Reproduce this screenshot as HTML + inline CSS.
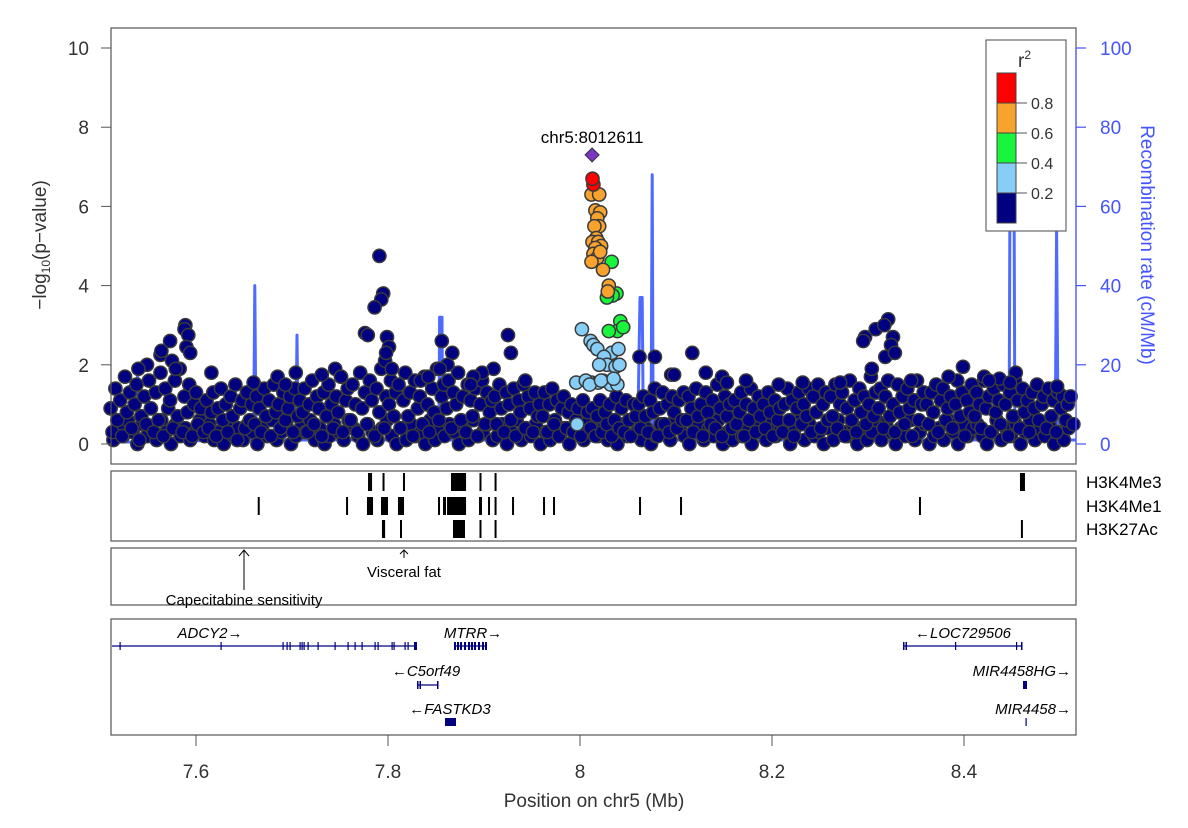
<!DOCTYPE html>
<html><head><meta charset="utf-8">
<style>
body{margin:0;background:#fff;}
svg{display:block;font-family:"Liberation Sans",Arial,sans-serif;}
</style></head>
<body>
<svg id="chart" width="1188" height="828" viewBox="0 0 1188 828" xmlns="http://www.w3.org/2000/svg">
<rect x="0" y="0" width="1188" height="828" fill="#fff"/>
<g id="recomb"></g>
<g id="pts"></g>
<g id="frame"></g>
<g id="axes"></g>
<g id="tracks"></g>
<g id="gwas"></g>
<g id="genes"></g>
<g id="legend"></g>
</svg>
<script>
// ---- data ----
const bgPosKb = [
7511,7513,7516,7518,7521,7523,7526,7528,7531,7533,7536,7538,7541,7543,7546,7548,7551,7553,7556,7558,
7561,7563,7566,7568,7571,7573,7576,7578,7581,7583,7586,7588,7591,7593,7596,7598,7600,7602,7605,7608,
7611,7613,7616,7618,7621,7623,7626,7628,7631,7633,7636,7638,7641,7643,7646,7648,7651,7653,7656,7658,
7661,7663,7666,7668,7671,7673,7676,7678,7681,7683,7686,7688,7691,7693,7696,7698,7701,7703,7706,7708,
7711,7713,7716,7718,7721,7723,7726,7728,7731,7733,7736,7738,7741,7743,7746,7748,7751,7753,7756,7758,
7761,7763,7766,7768,7771,7773,7776,7778,7781,7783,7786,7788,7791,7793,7796,7798,7801,7803,7806,7808,
7811,7813,7816,7818,7821,7823,7826,7828,7831,7833,7836,7838,7841,7843,7846,7848,7851,7853,7856,7858,
7861,7863,7866,7868,7871,7873,7876,7878,7881,7883,7886,7888,7891,7893,7896,7898,7901,7903,7906,7908,
7911,7913,7916,7918,7921,7923,7926,7928,7931,7933,7936,7938,7941,7943,7946,7948,7951,7953,7956,7958,
7961,7963,7966,7968,7971,7973,7976,7978,7981,7983,7986,7988,7991,7993,7996,7998,8001,8003,8006,8008,
8011,8013,8016,8018,8021,8023,8026,8028,8031,8033,8036,8038,8041,8043,8046,8048,8051,8053,8056,8058,
8061,8063,8066,8068,8071,8073,8076,8078,8081,8083,8086,8088,8091,8093,8096,8098,8101,8103,8106,8108,
8111,8113,8116,8118,8121,8123,8126,8128,8131,8133,8136,8138,8141,8143,8146,8148,8151,8153,8156,8158,
8161,8163,8166,8168,8171,8173,8176,8178,8181,8183,8186,8188,8191,8193,8196,8198,8201,8203,8206,8208,
8211,8213,8216,8218,8221,8223,8226,8228,8231,8233,8236,8238,8241,8243,8246,8248,8251,8253,8256,8258,
8261,8263,8266,8268,8271,8273,8276,8278,8281,8283,8286,8288,8291,8293,8296,8298,8301,8303,8306,8308,
8311,8313,8316,8318,8321,8323,8326,8328,8331,8333,8336,8338,8341,8343,8346,8348,8351,8353,8356,8358,
8361,8363,8366,8368,8371,8373,8376,8378,8381,8383,8386,8388,8391,8393,8396,8398,8401,8403,8406,8408,
8411,8413,8416,8418,8421,8423,8426,8428,8431,8433,8436,8438,8441,8443,8446,8448,8451,8453,8456,8458,
8461,8463,8466,8468,8471,8473,8476,8478,8481,8483,8486,8488,8491,8493,8496,8498,8501,8503,8506,8508,8511,8514];
const bgLogP = [
0.9,0.3,1.4,0.6,1.1,0.2,1.7,0.8,1.3,0.4,1.0,1.5,0.1,0.7,1.2,0.5,1.6,0.9,0.3,1.3,
0.6,1.8,0.2,1.4,0.9,1.1,0.4,1.6,0.7,1.9,0.3,1.2,0.8,1.5,0.2,1.0,1.3,0.5,0.9,0.3,
1.1,0.4,0.8,1.3,0.2,0.9,1.4,0.6,1.0,0.3,1.2,0.7,1.5,0.1,0.9,1.1,0.4,1.3,0.6,1.0,
0.5,1.2,0.9,0.3,1.4,0.7,1.1,0.2,1.5,0.8,1.0,0.4,1.3,0.6,0.9,1.2,0.3,1.4,0.7,1.1,
0.8,1.4,0.3,1.0,1.6,0.5,1.2,0.9,0.2,1.3,0.7,1.5,1.0,0.4,1.2,0.8,1.7,0.3,1.1,1.4,
0.6,1.5,1.0,0.3,1.8,0.9,1.3,0.5,1.6,1.1,0.2,1.4,0.8,1.9,0.4,1.2,1.0,1.6,0.7,1.3,
1.5,0.4,1.1,1.8,0.7,1.3,0.2,1.6,0.9,1.2,0.5,1.7,1.0,0.3,1.4,0.8,1.9,0.6,1.2,1.5,
0.9,1.6,0.4,1.3,1.0,1.8,0.6,1.2,0.3,1.5,1.1,0.7,1.4,0.2,1.0,1.6,0.5,1.3,0.8,1.1,
1.2,0.5,1.5,0.9,0.3,1.3,1.0,0.6,1.4,0.2,1.1,0.8,1.5,0.4,1.2,0.9,0.3,1.3,0.7,1.0,
0.7,1.3,0.3,1.0,1.4,0.5,1.1,0.2,0.9,1.2,0.4,0.8,1.0,0.3,0.6,0.9,0.2,1.1,0.5,0.8,
0.4,0.9,0.2,0.7,1.1,0.3,0.8,0.5,1.0,0.2,0.6,1.2,0.4,0.9,0.3,1.1,0.6,0.2,1.0,0.7,
1.0,0.4,1.2,0.7,0.3,1.1,0.8,1.4,0.2,0.9,1.3,0.5,1.0,0.3,1.2,0.8,0.4,1.1,0.6,1.3,
0.6,1.2,0.9,0.3,1.4,0.7,1.0,0.2,1.3,0.8,0.5,1.1,0.4,1.5,0.9,0.2,1.2,0.7,1.0,0.4,
1.1,0.5,0.8,1.3,0.2,1.0,0.6,1.4,0.9,0.3,1.2,0.7,1.0,0.4,1.3,0.8,0.2,1.1,0.6,0.9,
0.3,1.0,1.4,0.6,1.1,0.2,0.9,1.3,0.5,1.0,0.7,1.4,0.3,1.2,0.8,1.5,0.4,1.0,1.3,0.6,
1.2,0.7,1.5,0.4,1.0,1.3,0.2,0.9,1.6,0.6,1.1,0.3,1.4,0.8,1.2,0.5,1.0,1.7,0.7,1.3,
0.9,1.4,0.4,1.2,1.6,0.7,1.0,0.3,1.5,0.8,1.2,0.5,1.4,0.9,0.2,1.1,1.6,0.6,1.0,1.3,
1.0,0.5,1.3,0.8,1.5,0.3,1.1,1.4,0.6,0.9,1.2,0.4,1.0,1.6,0.7,1.3,0.2,1.1,0.8,1.5,
0.7,1.3,1.0,0.4,1.6,0.9,1.2,0.3,1.4,0.8,1.1,0.5,1.5,1.0,0.2,1.3,0.7,1.6,1.1,0.4,
1.4,0.8,1.1,0.3,1.3,0.9,1.5,0.6,1.0,1.2,0.4,1.4,0.7,1.1,0.3,1.3,0.9,1.2,0.6,1.0,1.2,0.5];
const lowPosKb = [
7514,7519,7524,7529,7534,7539,7544,7549,7554,7559,7564,7569,7574,7579,7584,7589,7594,7599,7604,7609,
7614,7619,7624,7629,7634,7639,7644,7649,7654,7659,7664,7669,7674,7679,7684,7689,7694,7699,7704,7709,
7714,7719,7724,7729,7734,7739,7744,7749,7754,7759,7764,7769,7774,7779,7784,7789,7794,7799,7804,7809,
7814,7819,7824,7829,7834,7839,7844,7849,7854,7859,7864,7869,7874,7879,7884,7889,7894,7899,7904,7909,
7914,7919,7924,7929,7934,7939,7944,7949,7954,7959,7964,7969,7974,7979,7984,7989,7994,7999,8004,8009,
8014,8019,8024,8029,8034,8039,8044,8049,8054,8059,8064,8069,8074,8079,8084,8089,8094,8099,8104,8109,
8114,8119,8124,8129,8134,8139,8144,8149,8154,8159,8164,8169,8174,8179,8184,8189,8194,8199,8204,8209,
8214,8219,8224,8229,8234,8239,8244,8249,8254,8259,8264,8269,8274,8279,8284,8289,8294,8299,8304,8309,
8314,8319,8324,8329,8334,8339,8344,8349,8354,8359,8364,8369,8374,8379,8384,8389,8394,8399,8404,8409,
8414,8419,8424,8429,8434,8439,8444,8449,8454,8459,8464,8469,8474,8479,8484,8489,8494,8499,8504,8509];
const lowLogP = [
0.1,0.4,0.2,0.6,0.3,0.0,0.5,0.2,0.4,0.1,0.6,0.3,0.0,0.5,0.2,0.4,0.1,0.3,0.6,0.2,
0.5,0.1,0.3,0.0,0.6,0.2,0.4,0.1,0.5,0.3,0.0,0.4,0.2,0.6,0.1,0.3,0.5,0.0,0.2,0.4,
0.3,0.6,0.1,0.4,0.0,0.2,0.5,0.3,0.1,0.6,0.4,0.2,0.0,0.5,0.3,0.1,0.4,0.6,0.2,0.0,
0.4,0.1,0.5,0.2,0.3,0.0,0.6,0.1,0.4,0.2,0.5,0.3,0.0,0.4,0.1,0.6,0.2,0.3,0.5,0.1,
0.2,0.5,0.0,0.3,0.6,0.1,0.4,0.2,0.5,0.0,0.3,0.1,0.6,0.2,0.4,0.0,0.3,0.5,0.1,0.4,
0.6,0.2,0.4,0.1,0.3,0.0,0.5,0.2,0.6,0.3,0.1,0.4,0.0,0.2,0.5,0.3,0.1,0.6,0.4,0.2,
0.0,0.3,0.5,0.1,0.4,0.2,0.6,0.0,0.3,0.1,0.5,0.2,0.4,0.0,0.6,0.3,0.1,0.5,0.2,0.4,
0.3,0.0,0.4,0.6,0.1,0.5,0.2,0.3,0.0,0.4,0.1,0.6,0.3,0.2,0.5,0.0,0.4,0.1,0.3,0.6,
0.1,0.5,0.3,0.0,0.4,0.2,0.6,0.1,0.3,0.5,0.0,0.2,0.4,0.1,0.6,0.3,0.0,0.5,0.2,0.4,
0.5,0.2,0.0,0.3,0.6,0.1,0.4,0.2,0.5,0.0,0.3,0.6,0.1,0.4,0.2,0.5,0.0,0.3,0.1,0.4];
// visible outlier SNPs with r2 < 0.2
const outPosKb = [7791,7795,7793,7786,7776,7779,7799,7801,7797,7804,7798,7573,7589,7588,7592,7590,7563,7549,7575,7594,7579,7564,7540,7616,7685,7704,7731,7745,7751,7856,7867,7862,7854,7925,7928,7910,7898,7889,8117,8078,8062,8095,8098,8131,8148,8153,8297,8295,8308,8321,8317,8326,8324,8304,8318,8328,8345,8399,8421,8437,8454,8497,7660,7693,7834,7842,7886,7943,8173,8207,8232,8271,8384,8426,8448];
const outLogP = [4.75,3.8,3.65,3.45,2.8,2.75,2.7,2.45,2.1,1.9,2.3,2.6,3.0,2.9,2.75,2.45,2.25,2.0,2.1,2.3,1.9,2.35,1.9,1.8,1.7,1.8,1.75,1.9,1.7,2.6,2.3,2.0,1.9,2.75,2.3,1.9,1.8,1.7,2.3,2.2,2.2,1.75,1.75,1.8,1.7,1.55,2.7,2.6,2.9,3.15,3.0,2.7,2.5,1.9,2.2,2.3,1.6,1.95,1.7,1.65,1.8,1.45,1.55,1.5,1.6,1.7,1.5,1.6,1.6,1.5,1.55,1.55,1.7,1.6,1.55];
// SNPs in LD with the lead variant
const ldPosKb = [8013,8014,8012,8020,8016,8021,8018,8020,8015,8017,8013,8019,8022,8016,8014,8018,8021,8012,8024,8030,8033,8029,8032,8038,8034,8028,8042,8039,8045,8030,8031,8033,8002,8011,8014,8018,8025,8028,8020,8037,8040,8012,8019,8024,8032,8039,8041,7996,8006,8010,8022,8035,7997];
const ldLogP = [6.7,6.55,6.3,6.3,5.9,5.85,5.7,5.5,5.5,5.2,5.1,5.1,5.0,4.95,4.8,4.7,4.85,4.6,4.4,4.0,4.6,3.85,3.8,3.8,3.75,3.7,3.1,2.85,2.95,2.85,2.2,2.3,2.9,2.6,2.5,2.4,2.2,2.0,2.0,1.95,2.4,1.55,1.55,1.6,1.5,1.5,2.0,1.55,1.6,1.5,1.6,1.65,0.5];
const ldR2 = [0.9,0.85,0.7,0.7,0.7,0.7,0.7,0.7,0.7,0.7,0.7,0.7,0.7,0.7,0.7,0.7,0.7,0.7,0.7,0.7,0.5,0.7,0.5,0.5,0.5,0.5,0.5,0.5,0.5,0.5,0.3,0.3,0.3,0.3,0.3,0.3,0.3,0.3,0.3,0.3,0.3,0.3,0.3,0.3,0.3,0.3,0.3,0.3,0.3,0.3,0.3,0.3,0.3];
const leadPos = 8.012611, leadLogP = 7.3;
const recPos = [7.511,7.538,7.5393,7.5405,7.600,7.660,7.6612,7.6625,7.704,7.7052,7.7065,7.853,7.8537,7.8563,7.857,7.930,8.060,8.0625,8.0648,8.066,8.074,8.0752,8.0763,8.447,8.448,8.452,8.453,8.464,8.4656,8.467,8.495,8.4965,8.498,8.517];
const recRate = [0.5,0.5,19.5,0.5,0.8,1,40,1,1,27.5,1,1,32,32,1,1,1,37,37,1,1,68,1,1,75,75,1,1,13,1,1,54,1,1];
const xTicks = [7.6,7.8,8.0,8.2,8.4];
const xTickLabels = ["7.6","7.8","8","8.2","8.4"];
const yTicks = [0,2,4,6,8,10];
const recTicks = [0,20,40,60,80,100];
const trackNames = ["H3K4Me3","H3K4Me1","H3K27Ac"];
const me3 = [[7.7792,7.7799],[7.7813,7.782],[7.7943,7.7955],[7.8156,7.8164],[7.8656,7.8813],[7.8953,7.8961],[7.911,7.912],[8.4583,8.4635]];
const me1 = [[7.6643,7.665],[7.7563,7.757],[7.7781,7.7844],[7.7927,7.8],[7.8104,7.8112],[7.8125,7.8133],[7.8146,7.8154],[7.8521,7.8535],[7.8573,7.8604],[7.8615,7.8813],[7.8948,7.8979],[7.9042,7.905],[7.911,7.912],[7.9292,7.93],[7.9615,7.9623],[7.9719,7.9727],[8.0615,8.0623],[8.1042,8.105],[8.3531,8.354]];
const k27 = [[7.7937,7.797],[7.8125,7.8133],[7.8677,7.8802],[7.8953,7.8961],[7.911,7.912],[8.4593,8.461]];
// ---- scales ----
const X = m => 196 + (m - 7.6) * 960;
const Y = v => 444 - 39.6 * v;
const YR = r => 444 - 3.96 * r;
const NS = "http://www.w3.org/2000/svg";
function mk(tag, attrs, parent, text){const e=document.createElementNS(NS,tag);for(const k in attrs)e.setAttribute(k,attrs[k]);if(text!==undefined)e.textContent=text;parent.appendChild(e);return e;}
const $ = id => document.getElementById(id);
function r2col(r){return r>=0.8?"#FF0000":r>=0.6?"#F8A32E":r>=0.4?"#19F53C":r>=0.2?"#87CEF6":"#000080";}

// recombination line
let d="";recPos.forEach((p,i)=>{d+=(i?"L":"M")+X(p).toFixed(1)+","+YR(recRate[i]).toFixed(1);});
const rl=mk("path",{d:d,fill:"none",stroke:"#3050FF","stroke-width":3,"stroke-opacity":0.85,"stroke-linejoin":"round"},$("recomb"));



// points
const clipG = $("pts");
function dot(p,v,r){const c=mk("circle",{cx:X(p).toFixed(1),cy:Y(v).toFixed(1),r:6.6,fill:r2col(r),stroke:"#3a3a3a","stroke-width":1.5},clipG);

}
lowPosKb.forEach((p,i)=>dot(p/1000,lowLogP[i],0.1));
bgPosKb.forEach((p,i)=>dot(p/1000,bgLogP[i],0.1));
outPosKb.forEach((p,i)=>dot(p/1000,outLogP[i],0.1));
const ldOrder = ldPosKb.map((p,i)=>i).sort((a,b)=>ldR2[a]-ldR2[b]);
ldOrder.forEach(i=>dot(ldPosKb[i]/1000,ldLogP[i],ldR2[i]));
const lx=X(leadPos), ly=Y(leadLogP);
const dia=mk("polygon",{points:`${lx},${ly-7} ${lx+7},${ly} ${lx},${ly+7} ${lx-7},${ly}`,fill:"#7B35C0",stroke:"#333","stroke-width":1},clipG);


const lt=mk("text",{x:lx,y:ly-12,"text-anchor":"middle","font-size":17,fill:"#000"},clipG,"chr5:8012611");



// frames
const fr=$("frame");
[[111,28,965,436],[111,471,965,70],[111,548,965,57],[111,619,965,116]].forEach((b,i)=>{
const r=mk("rect",{x:b[0],y:b[1],width:b[2],height:b[3],fill:"none",stroke:"#555","stroke-width":1.2},fr);

});

// axes
const ax=$("axes");
mk("line",{x1:111,y1:Y(0),x2:111,y2:Y(10),stroke:"#555","stroke-width":1},ax);
yTicks.forEach(t=>{mk("line",{x1:101,y1:Y(t),x2:111,y2:Y(t),stroke:"#555","stroke-width":1},ax);
const tx=mk("text",{x:89,y:Y(t)+7,"text-anchor":"end","font-size":19,fill:"#333"},ax,String(t));

});
mk("line",{x1:1076,y1:YR(0),x2:1076,y2:YR(100),stroke:"#4455FF","stroke-width":1.2},ax);
recTicks.forEach(t=>{mk("line",{x1:1076,y1:YR(t),x2:1086,y2:YR(t),stroke:"#4455FF","stroke-width":1.2},ax);
const tx=mk("text",{x:1100,y:YR(t)+7,"font-size":19,fill:"#4455FF"},ax,String(t));

});
const yt=mk("text",{transform:"translate(46,245) rotate(-90)","text-anchor":"middle","font-size":19,fill:"#333"},ax);
yt.innerHTML='−log<tspan font-size="12" dy="4">10</tspan><tspan dy="-4">(p−value)</tspan>';


const rt=mk("text",{transform:"translate(1141,245) rotate(90)","text-anchor":"middle","font-size":19,fill:"#4455FF"},ax,"Recombination rate (cM/Mb)");


xTicks.forEach((t,i)=>{mk("line",{x1:X(t),y1:735,x2:X(t),y2:746,stroke:"#555","stroke-width":1},ax);
const tx=mk("text",{x:X(t),y:778,"text-anchor":"middle","font-size":19,fill:"#333"},ax,xTickLabels[i]);

});
const xt=mk("text",{x:594,y:807,"text-anchor":"middle","font-size":19,fill:"#333"},ax,"Position on chr5 (Mb)");



// tracks
const tr=$("tracks");
[me3,me1,k27].forEach((arr,row)=>{const y0=[473,497,520][row];
arr.forEach(iv=>{const w=Math.max(2,X(iv[1])-X(iv[0]));
const b=mk("rect",{x:X(iv[0]),y:y0,width:w,height:18,fill:"#000"},tr);

});
const l=mk("text",{x:1086,y:y0+15,"font-size":17,fill:"#000"},tr,trackNames[row]);

});

// gwas catalog
const gw=$("gwas");
mk("line",{x1:244,y1:550,x2:244,y2:590,stroke:"#000","stroke-width":1},gw);
mk("path",{d:"M239,556 L244,550 L249,556",fill:"none",stroke:"#000","stroke-width":1},gw);
let g1=mk("text",{x:244,y:605,"text-anchor":"middle","font-size":15},gw,"Capecitabine sensitivity");


mk("line",{x1:404,y1:550,x2:404,y2:558,stroke:"#000","stroke-width":1},gw);
mk("path",{d:"M400,554 L404,550 L408,554",fill:"none",stroke:"#000","stroke-width":1},gw);
let g2=mk("text",{x:404,y:577,"text-anchor":"middle","font-size":15},gw,"Visceral fat");



// genes
const ge=$("genes"), NV="#000080";
function gline(x1,x2,y){mk("line",{x1:x1,y1:y,x2:x2,y2:y,stroke:NV,"stroke-width":1.2},ge);}
function ex(x,y,w,h){mk("rect",{x:x,y:y-h/2,width:w,height:h,fill:NV},ge);}
function glabel(x,y,t,anchor){const e=mk("text",{x:x,y:y,"text-anchor":anchor||"middle","font-size":15,"font-style":"italic",fill:"#000"},ge,t);

}
gline(112,417,646);
[120,221,283,287,290,300,302,304,308,318,335,348,355,362,375,378,392,394,405,408].forEach(x=>ex(x-0.5,646,1.2,8));
ex(414,646,3,8);
glabel(210,638,"ADCY2→");
gline(455,487,646);[455,458,461,465,469,472,475,479,483,486].forEach(x=>ex(x-1,646,2,8));
glabel(473,638,"MTRR→");
gline(417,438,685);ex(417,685,1.5,8);ex(419.5,685,1.5,8);ex(437,685,1.5,8);
glabel(426,676,"←C5orf49");
ex(445,722,11,8);
glabel(450,714,"←FASTKD3");
gline(903,1022,646);ex(903,646,1.5,8);ex(905.5,646,1.5,8);ex(955,646,1.2,8);ex(1016,646,1.2,8);ex(1021,646,1.5,8);
glabel(963,638,"←LOC729506");
ex(1023,685,4,8);
glabel(1071,676,"MIR4458HG→","end");
ex(1025.5,722,1.2,8);
glabel(1071,714,"MIR4458→","end");

// legend
const lg=$("legend");
mk("rect",{x:986,y:40,width:80,height:191,fill:"#fff",stroke:"#666","stroke-width":1.2},lg);
const lt2=mk("text",{x:1018,y:67,"font-size":19,fill:"#333"},lg);
lt2.innerHTML='r<tspan font-size="12" dy="-8">2</tspan>';


const legCols=["#FF0000","#F8A32E","#19F53C","#87CEF6","#000080"];
legCols.forEach((c,i)=>{const r=mk("rect",{x:997,y:73+i*30,width:19,height:30,fill:c,stroke:"#444","stroke-width":1},lg);

});
["0.8","0.6","0.4","0.2"].forEach((t,i)=>{const y=103+i*30;mk("line",{x1:1016,y1:y,x2:1027,y2:y,stroke:"#555","stroke-width":1},lg);
const tx=mk("text",{x:1031,y:y+6,"font-size":16,fill:"#333"},lg,t);

});
</script>
</body></html>
